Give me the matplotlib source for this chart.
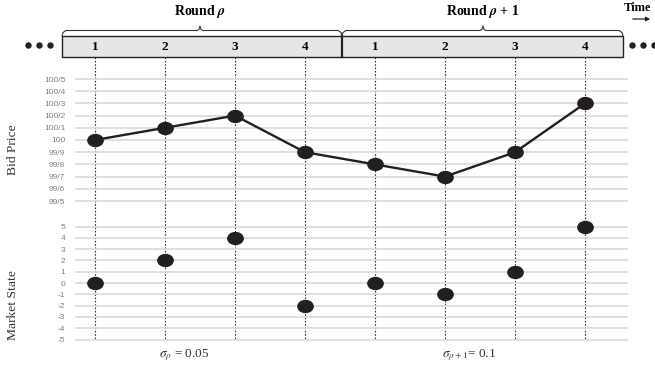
import numpy as np
import matplotlib
matplotlib.use('Agg')
import matplotlib.pyplot as plt
from matplotlib.path import Path
from matplotlib.patches import Rectangle
from matplotlib.transforms import Affine2D, blended_transform_factory

plt.rcParams['font.family'] = ['Liberation Serif', 'DejaVu Serif']
plt.rcParams['mathtext.fontset'] = 'stix'

# data
step_labels = ['1', '2', '3', '4', '1', '2', '3', '4']
round_labels = [r'Round $\mathbfit{\rho}$', r'Round $\mathbfit{\rho}$ + 1']
sigma_labels = [r'$\sigma_\rho$ = 0.05', r'$\sigma_{\rho+1}$= 0.1']
bid_ticks = [-5, -4, -3, -2, -1, 0, 1, 2, 3, 4, 5]
bid_ticklabels = ['99/5', '99/6', '99/7', '99/8', '99/9', '100',
                  '100/1', '100/2', '100/3', '100/4', '100/5']
bid_price = [0, 1, 2, -1, -2, -3, -1, 3]
market_ticks = list(range(-5, 6))
market_state = [0, 2, 4, -2, 0, -1, 1, 5]

x = np.arange(len(bid_price))
W, H = 655, 373
dark = '#231f20'
grid_c = '#d9d9d9'

fig = plt.figure(figsize=(W / 100, H / 100), dpi=100)

# background axes in pixel units for the timeline decoration
bg = fig.add_axes([0, 0, 1, 1])
bg.set_xlim(0, W)
bg.set_ylim(H, 0)
bg.axis('off')

# ellipse marker
ell = Path.unit_circle().transformed(Affine2D().scale(1.28, 1.0))

def pix_axes(top, bottom):
    return fig.add_axes([75 / W, (H - bottom) / H, 553 / W, (bottom - top) / H])

ax1 = pix_axes(60, 215)
ax2 = pix_axes(215, 345)
xlim = ((75 - 95) / 70, (628 - 95) / 70)

for ax, ticks, labels, y0, step, top_px, bot_px in [
        (ax1, bid_ticks, bid_ticklabels, 140, 12.2, 60, 215),
        (ax2, market_ticks, [str(t) for t in market_ticks], 283, 11.3, 215, 345)]:
    ax.set_facecolor('none')
    ax.set_xlim(*xlim)
    ax.set_ylim((y0 - bot_px) / step, (y0 - top_px) / step)
    ax.set_yticks(ticks)
    ax.set_yticklabels(labels, fontsize=6, color='#7f7f7f', family='Liberation Sans')
    ax.tick_params(axis='y', length=0, pad=7)
    ax.set_xticks([])
    for s in ax.spines.values():
        s.set_visible(False)
    ax.yaxis.grid(True, color=grid_c, lw=1.2)
    ax.set_axisbelow(True)

ax1.plot(x, bid_price, color=dark, lw=1.7, marker=ell, ms=11,
         mfc=dark, mec=dark, zorder=5)
ax2.plot(x, market_state, ls='none', marker=ell, ms=11,
         mfc=dark, mec=dark, zorder=5)

blend = blended_transform_factory(ax1.transData, bg.transData)

# vertical dotted lines
for xi in x:
    bg.plot([xi, xi], [57, 340], transform=blend, color='#333333',
            lw=0.8, ls=(0, (1.5, 1.5)), zorder=1)

# timeline box
bg.add_patch(Rectangle((62, 36), 561, 21, facecolor='#e6e6e6',
                       edgecolor='#222222', lw=1.0, zorder=2))
bg.plot([342, 342], [36, 57], color='#222222', lw=1.6, zorder=3)
for xi, lab in zip(x, step_labels):
    bg.text(xi, 47, lab, transform=blend, ha='center', va='center',
            fontsize=9.5, fontweight='bold', zorder=4)

# braces
def brace(x0, x1, xm):
    xs = [x0, x0 + 1, x0 + 4, xm - 3, xm - 1, xm, xm + 1, xm + 3, x1 - 4, x1 - 1, x1]
    ys = [36, 32.5, 30.5, 30.5, 29.5, 26, 29.5, 30.5, 30.5, 32.5, 36]
    bg.plot(xs, ys, color='#333333', lw=0.8, zorder=3)

brace(62, 342, 200)
brace(342, 623, 483)

bg.text(200, 12, round_labels[0], ha='center', va='center',
        fontsize=10, fontweight='bold')
bg.text(483, 12, round_labels[1], ha='center', va='center',
        fontsize=10, fontweight='bold')

# ellipsis dots
bg.plot([28, 39, 50], [45, 45, 45], ls='none', marker='o', ms=3.6, color=dark)
bg.plot([632, 643, 654], [45, 45, 45], ls='none', marker='o', ms=3.6, color=dark)

# time arrow
bg.text(638, 8, 'Time', ha='center', va='center', fontsize=9, fontweight='bold')
bg.annotate('', xy=(653, 19), xytext=(630, 19),
            arrowprops=dict(arrowstyle='-|>', color=dark, lw=0.9,
                            mutation_scale=6))

# axis titles
bg.text(13, 150, 'Bid Price', rotation=90, ha='center', va='center',
        fontsize=9.7, color='#333333')
bg.text(13, 305, 'Market State', rotation=90, ha='center', va='center',
        fontsize=9.7, color='#333333')

# sigma labels
bg.text(184, 355, sigma_labels[0], ha='center', va='center', fontsize=9.5,
        color='#333333')
bg.text(469, 355, sigma_labels[1], ha='center', va='center', fontsize=9.5,
        color='#333333')

fig.savefig('out.png', dpi=100)
